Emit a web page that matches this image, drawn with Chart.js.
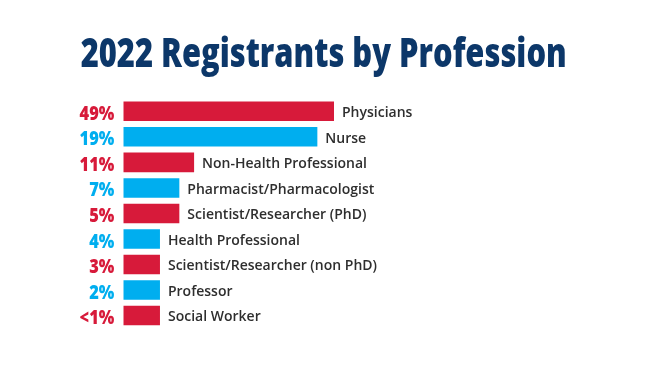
<!DOCTYPE html>
<html>
<head>
<meta charset="utf-8">
<title>2022 Registrants by Profession</title>
<script src="https://cdn.jsdelivr.net/npm/chart.js@4.4.0/dist/chart.umd.min.js"></script>
<style>
    html, body { margin: 0; padding: 0; background: #fff; }
    #wrap { width: 650px; height: 372px; }
</style>
</head>
<body>
<div id="wrap"><canvas id="chart" width="650" height="372"></canvas></div>
<script>
// Chart data
const titleText = '2022 Registrants by Profession';
const categories = [
    'Physicians',
    'Nurse',
    'Non-Health Professional',
    'Pharmacist/Pharmacologist',
    'Scientist/Researcher (PhD)',
    'Health Professional',
    'Scientist/Researcher (non PhD)',
    'Professor',
    'Social Worker'
];
const shareLabels = ['49%', '19%', '11%', '7%', '5%', '4%', '3%', '2%', '<1%'];
// bar lengths as drawn in the graphic (Physicians bar = 100)
const barLengths = [100, 92.1, 33.6, 26.6, 26.6, 17.4, 17.4, 17.4, 17.4];

const RED = '#d71a3a';
const BLUE = '#00aeef';
const NAVY = '#0c3769';
const GREY = '#2e2e2e';

// Draw condensed text by squeezing horizontally
function drawSqueezed(ctx, text, x, y, align, sx) {
    ctx.save();
    ctx.translate(x, y);
    ctx.scale(sx, 1);
    ctx.textAlign = align;
    ctx.fillText(text, 0, 0);
    ctx.restore();
}

const labelsPlugin = {
    id: 'labelsPlugin',
    afterDatasetsDraw(chart) {
        const ctx = chart.ctx;
        const meta = chart.getDatasetMeta(0);

        ctx.save();
        ctx.textBaseline = 'alphabetic';

        // Title
        ctx.fillStyle = NAVY;
        ctx.font = '800 40px "Open Sans"';
        const tw = ctx.measureText(titleText).width;
        drawSqueezed(ctx, titleText, 323.7, 66.7, 'center', 486 / tw);

        meta.data.forEach((bar, i) => {
            const color = i % 2 === 0 ? RED : BLUE;

            // Percent labels to the left
            ctx.fillStyle = color;
            ctx.font = '800 19.5px "Open Sans"';
            drawSqueezed(ctx, shareLabels[i], bar.base - 9, bar.y + 8.6, 'right', 0.84);

            // Category labels to the right
            ctx.fillStyle = GREY;
            ctx.font = '600 14px "Open Sans"';
            drawSqueezed(ctx, categories[i], bar.x + 8, bar.y + 6, 'left', 1);
        });

        ctx.restore();
    }
};

const ctx = document.getElementById('chart').getContext('2d');
new Chart(ctx, {
    type: 'bar',
    data: {
        labels: categories,
        datasets: [{
            data: barLengths,
            backgroundColor: categories.map((c, i) => i % 2 === 0 ? RED : BLUE),
            borderWidth: 0,
            barPercentage: 0.765,
            categoryPercentage: 1
        }]
    },
    options: {
        indexAxis: 'y',
        responsive: false,
        animation: false,
        layout: {
            padding: { left: 123.3, right: 316, top: 98.6, bottom: 43.8 }
        },
        plugins: {
            legend: { display: false },
            tooltip: { enabled: false },
            title: { display: false }
        },
        scales: {
            x: { display: false, min: 0, max: 100 },
            y: { display: false }
        }
    },
    plugins: [labelsPlugin]
});
</script>
</body>
</html>
